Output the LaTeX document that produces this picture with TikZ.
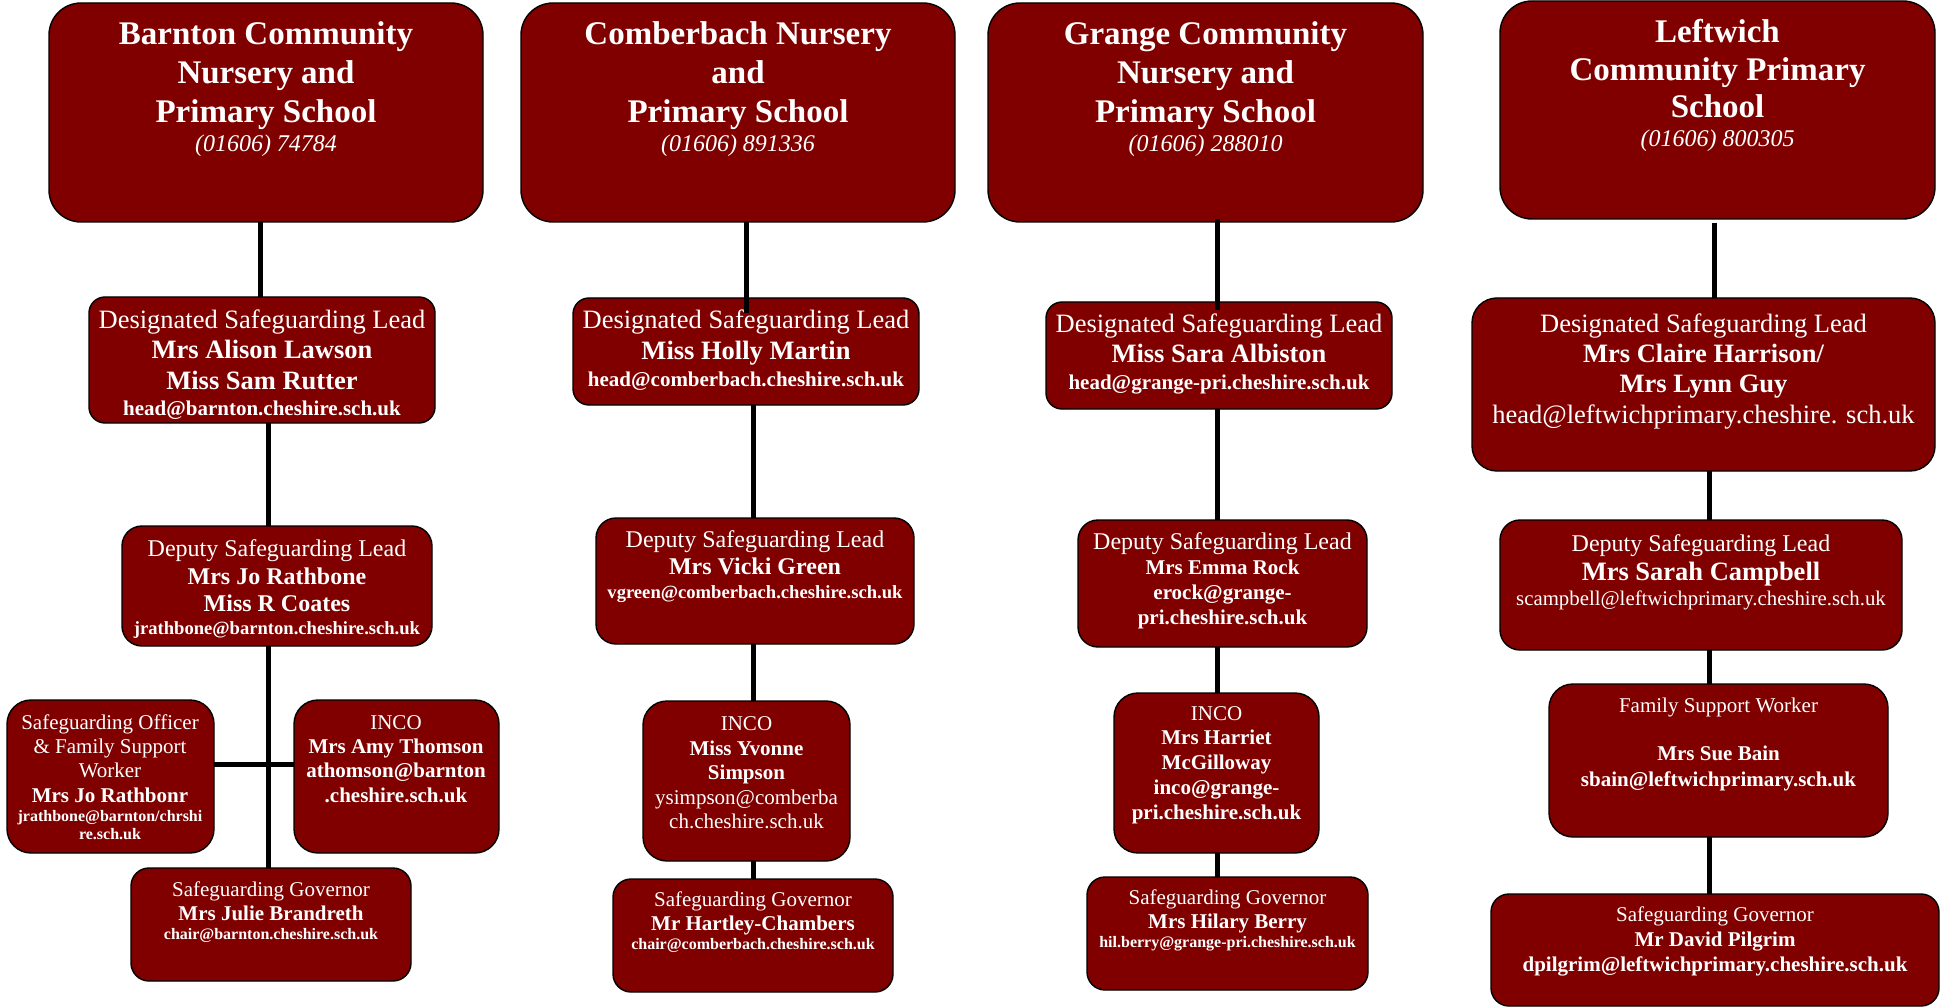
\documentclass[tikz,border=0pt]{standalone}
\usepackage{fontspec}
\setmainfont{Liberation Serif}
\usetikzlibrary{calc}
\definecolor{boxred}{RGB}{128,0,0}
\newcommand\TB[1]{\vtop{\baselineskip=0pt\lineskip=0pt\lineskiplimit=-\maxdimen #1}}
\newcommand\LF[2]{\hbox to 0pt{\hss\fontsize{#1}{#1}\selectfont #2\hss}}
\newcommand\LN[3]{\vskip #1pt\LF{#2}{#3}}
\newcommand\mkbox[6]{\node[orgbox,rounded corners=#6pt,minimum width={#4-#2},minimum height={#5-#3}] (#1) at ({(#2+#4)/2},{(#3+#5)/2}) {};}
\tikzset{
  orgbox/.style={draw=black,line width=1.4pt,fill=boxred,inner sep=0pt,outer sep=0pt},
  txt/.style={inner sep=0pt,outer sep=0pt,anchor=base,text=white},
  conn/.style={draw=black,line width=5pt}
}
\begin{document}
\begin{tikzpicture}[x=1pt,y=-1pt]
\useasboundingbox (0,0) rectangle (1941,1008);
% ---------- Barnton ----------
\mkbox{t1}{49}{3}{483}{222}{32}
\mkbox{d1}{89}{297}{435}{423}{16}
\mkbox{p1}{122}{526}{432}{646}{20}
\mkbox{s1}{7}{700}{214}{853}{24}
\mkbox{i1}{294}{700}{499}{853}{24}
\mkbox{g1}{131}{868}{411}{981}{18}
% ---------- Comberbach ----------
\mkbox{t2}{521}{3}{955}{222}{32}
\mkbox{d2}{573}{298}{919}{405}{16}
\mkbox{p2}{596}{518}{914}{644}{20}
\mkbox{i2}{643}{701}{850}{861}{24}
\mkbox{g2}{613}{879}{893}{992}{18}
% ---------- Grange ----------
\mkbox{t3}{988}{3}{1423}{222}{32}
\mkbox{d3}{1046}{302}{1392}{409}{16}
\mkbox{p3}{1078}{520}{1367}{647}{20}
\mkbox{i3}{1114}{693}{1319}{853}{24}
\mkbox{g3}{1087}{877}{1368}{990}{18}
% ---------- Leftwich ----------
\mkbox{t4}{1500}{1}{1935}{219}{32}
\mkbox{d4}{1472}{298}{1935}{471}{25}
\mkbox{p4}{1500}{520}{1902}{650}{20}
\mkbox{f4}{1549}{684}{1888}{837}{24}
\mkbox{g4}{1491}{894}{1939}{1006}{18}
% ---------- connectors ----------
\coordinate (x1a) at (260,0);
\coordinate (x1b) at (268,0);
\coordinate (h1) at (0,764);
\coordinate (x2a) at (746,0);
\coordinate (x2b) at (753,0);
\coordinate (x3) at (1217,0);
\coordinate (x4a) at (1714,0);
\coordinate (x4b) at (1709,0);
\draw[conn] (t1.south -| x1a) -- (d1.north -| x1a);
\draw[conn] (d1.south -| x1b) -- (p1.north -| x1b);
\draw[conn] (p1.south -| x1b) -- (g1.north -| x1b);
\draw[conn] (s1.east |- h1) -- (i1.west |- h1);
\draw[conn] (t2.south -| x2a) -- ($(d2.north -| x2a)+(0,15)$);
\draw[conn] (d2.south -| x2b) -- (p2.north -| x2b);
\draw[conn] (p2.south -| x2b) -- (i2.north -| x2b);
\draw[conn] (i2.south -| x2b) -- (g2.north -| x2b);
\draw[conn] ($(t3.south -| x3)+(0,-3)$) -- ($(d3.north -| x3)+(0,8)$);
\draw[conn] (d3.south -| x3) -- (p3.north -| x3);
\draw[conn] (p3.south -| x3) -- (i3.north -| x3);
\draw[conn] (i3.south -| x3) -- (g3.north -| x3);
\draw[conn] ($(t4.south -| x4a)+(0,4)$) -- (d4.north -| x4a);
\draw[conn] (d4.south -| x4b) -- (p4.north -| x4b);
\draw[conn] (p4.south -| x4b) -- (f4.north -| x4b);
\draw[conn] (f4.south -| x4b) -- (g4.north -| x4b);
% ---------- texts: Barnton ----------
\node[txt] (t1x) at (266,45) {\TB{\LF{33}{\bfseries Barnton Community}\LN{39}{33}{\bfseries Nursery and}\LN{39}{33}{\bfseries Primary School}\LN{29}{24}{\itshape (01606) 74784}}};
\node[txt] (d1x) at (262,328) {\TB{\LF{26.5}{Designated Safeguarding Lead}\LN{31}{26.5}{\bfseries Mrs Alison Lawson}\LN{31}{26.5}{\bfseries Miss Sam Rutter}\LN{25}{21}{\bfseries head@barnton.cheshire.sch.uk}}};
\node[txt] (p1x) at (277,556) {\TB{\LF{24}{Deputy Safeguarding Lead}\LN{28}{24}{\bfseries Mrs Jo Rathbone}\LN{27}{24}{\bfseries Miss R Coates}\LN{23}{18.6}{\bfseries jrathbone@barnton.cheshire.sch.uk}}};
\node[txt] (s1x) at (110,729) {\TB{\LF{21}{Safeguarding Officer}\LN{24}{21}{\& Family Support}\LN{24}{21}{Worker}\LN{25}{21}{\bfseries Mrs Jo Rathbonr}\LN{19}{16}{\bfseries jrathbone@barnton/chrshi}\LN{18}{16}{\bfseries re.sch.uk}}};
\node[txt] (i1x) at (396,729) {\TB{\LF{21}{INCO}\LN{24}{21}{\bfseries Mrs Amy Thomson}\LN{24}{21}{\bfseries athomson@barnton}\LN{25}{21}{\bfseries .cheshire.sch.uk}}};
\node[txt] (g1x) at (271,896) {\TB{\LF{21}{Safeguarding Governor}\LN{24}{21}{\bfseries Mrs Julie Brandreth}\LN{19}{16}{\bfseries chair@barnton.cheshire.sch.uk}}};
% ---------- texts: Comberbach ----------
\node[txt] (t2x) at (738,45) {\TB{\LF{33}{\bfseries Comberbach Nursery}\LN{39}{33}{\bfseries and}\LN{39}{33}{\bfseries Primary School}\LN{29}{24}{\itshape (01606) 891336}}};
\node[txt] (d2x) at (746,329) {\TB{\LF{26.5}{Designated Safeguarding Lead}\LN{31}{26.5}{\bfseries Miss Holly Martin}\LN{27}{21}{\bfseries head@comberbach.cheshire.sch.uk}}};
\node[txt] (p2x) at (755,547.5) {\TB{\LF{24}{Deputy Safeguarding Lead}\LN{27}{24}{\bfseries Mrs Vicki Green}\LN{23.5}{18.6}{\bfseries vgreen@comberbach.cheshire.sch.uk}}};
\node[txt] (i2x) at (746.5,730.5) {\TB{\LF{21}{INCO}\LN{24.5}{21}{\bfseries Miss Yvonne}\LN{24.5}{21}{\bfseries Simpson}\LN{24.5}{21}{ysimpson@comberba}\LN{24.5}{21}{ch.cheshire.sch.uk}}};
\node[txt] (g2x) at (753,906) {\TB{\LF{21}{Safeguarding Governor}\LN{24}{21}{\bfseries Mr Hartley-Chambers}\LN{19.5}{16}{\bfseries chair@comberbach.cheshire.sch.uk}}};
% ---------- texts: Grange ----------
\node[txt] (t3x) at (1205.5,45) {\TB{\LF{33}{\bfseries Grange Community}\LN{39}{33}{\bfseries Nursery and}\LN{39}{33}{\bfseries Primary School}\LN{29}{24}{\itshape (01606) 288010}}};
\node[txt] (d3x) at (1219,333) {\TB{\LF{26.5}{Designated Safeguarding Lead}\LN{30}{26.5}{\bfseries Miss Sara Albiston}\LN{27}{21}{\bfseries head@grange-pri.cheshire.sch.uk}}};
\node[txt] (p3x) at (1222.5,549) {\TB{\LF{24}{Deputy Safeguarding Lead}\LN{25.5}{21}{\bfseries Mrs Emma Rock}\LN{24.5}{21}{\bfseries erock@grange-}\LN{25}{21}{\bfseries pri.cheshire.sch.uk}}};
\node[txt] (i3x) at (1216.5,720) {\TB{\LF{21}{INCO}\LN{24}{21}{\bfseries Mrs Harriet}\LN{25.5}{21}{\bfseries McGilloway}\LN{24.5}{21}{\bfseries inco@grange-}\LN{25}{21}{\bfseries pri.cheshire.sch.uk}}};
\node[txt] (g3x) at (1227.5,904) {\TB{\LF{21}{Safeguarding Governor}\LN{24}{21}{\bfseries Mrs Hilary Berry}\LN{19}{16}{\bfseries hil.berry@grange-pri.cheshire.sch.uk}}};
% ---------- texts: Leftwich ----------
\node[txt] (t4x) at (1717.5,43) {\TB{\LF{33}{\bfseries Leftwich}\LN{38}{33}{\bfseries Community Primary}\LN{37}{33}{\bfseries School}\LN{29}{24}{\itshape (01606) 800305}}};
\node[txt] (d4x) at (1703.5,333) {\TB{\LF{26.5}{Designated Safeguarding Lead}\LN{30}{26.5}{\bfseries Mrs Claire Harrison/}\LN{30}{26.5}{\bfseries Mrs Lynn Guy}\LN{31}{26.5}{head@leftwichprimary.cheshire. sch.uk}}};
\node[txt] (p4x) at (1701,551) {\TB{\LF{24}{Deputy Safeguarding Lead}\LN{29}{26.5}{\bfseries Mrs Sarah Campbell}\LN{25}{20.8}{scampbell@leftwichprimary.cheshire.sch.uk}}};
\node[txt] (f4x) at (1718.5,712) {\TB{\LF{21}{Family Support Worker}\LN{48.5}{21}{\bfseries Mrs Sue Bain}\LN{25.5}{21}{\bfseries sbain@leftwichprimary.sch.uk}}};
\node[txt] (g4x) at (1715,921) {\TB{\LF{21}{Safeguarding Governor}\LN{25}{21}{\bfseries Mr David Pilgrim}\LN{25}{21}{\bfseries dpilgrim@leftwichprimary.cheshire.sch.uk}}};
\end{tikzpicture}
\end{document}
